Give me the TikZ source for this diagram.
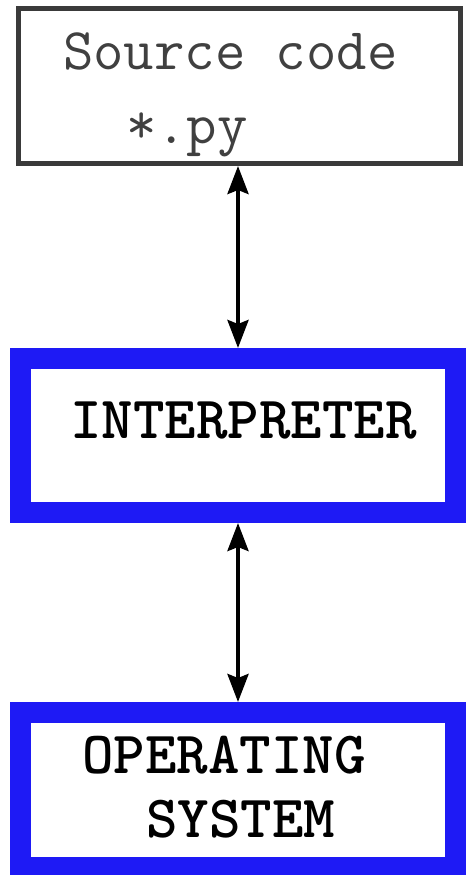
\documentclass[tikz,border=0pt]{standalone}
\usetikzlibrary{arrows.meta}
\definecolor{boxblue}{RGB}{30,26,245}
\definecolor{boxgray}{RGB}{58,58,58}
\tikzset{
  srcbox/.style={draw=boxgray, line width=5pt, fill=white, inner sep=0pt, outer sep=0.5\pgflinewidth},
  bluebox/.style={draw=boxblue, line width=21pt, fill=white, inner sep=0pt, outer sep=0.5\pgflinewidth},
  lbl/.style={font=\ttfamily\fontsize{59}{59}\selectfont, inner sep=0pt, anchor=base west},
  blbl/.style={lbl, font=\ttfamily\bfseries\fontsize{60}{60}\selectfont},
  arr/.style={line width=4pt, {Stealth[length=28pt,width=21pt,inset=4pt]}-{Stealth[length=28pt,width=21pt,inset=4pt]}}
}
\begin{document}
\begin{tikzpicture}[x=1pt,y=-1pt]
\useasboundingbox (0,0) rectangle (466,875);
\node[srcbox, minimum width=442pt, minimum height=155pt] (src) at (239.5,86) {};
\node[bluebox, minimum width=435pt, minimum height=154pt] (interp) at (238,435.5) {};
\node[bluebox, minimum width=435pt, minimum height=155pt] (os) at (238,790) {};
\node[lbl, text=black!75] (t1) at (63,70) {Source code};
\node[lbl, text=black!75] (t2) at (126,143) {*.py};
\node[blbl] (t3) at (70,438) {INTERPRETER};
\node[blbl] (t4) at (82,773) {OPERATING};
\node[blbl] (t5) at (146,837) {SYSTEM};
\draw[arr] (src.south -| interp.north) -- (interp.north);
\draw[arr] (interp.south) -- (os.north);
\end{tikzpicture}
\end{document}
